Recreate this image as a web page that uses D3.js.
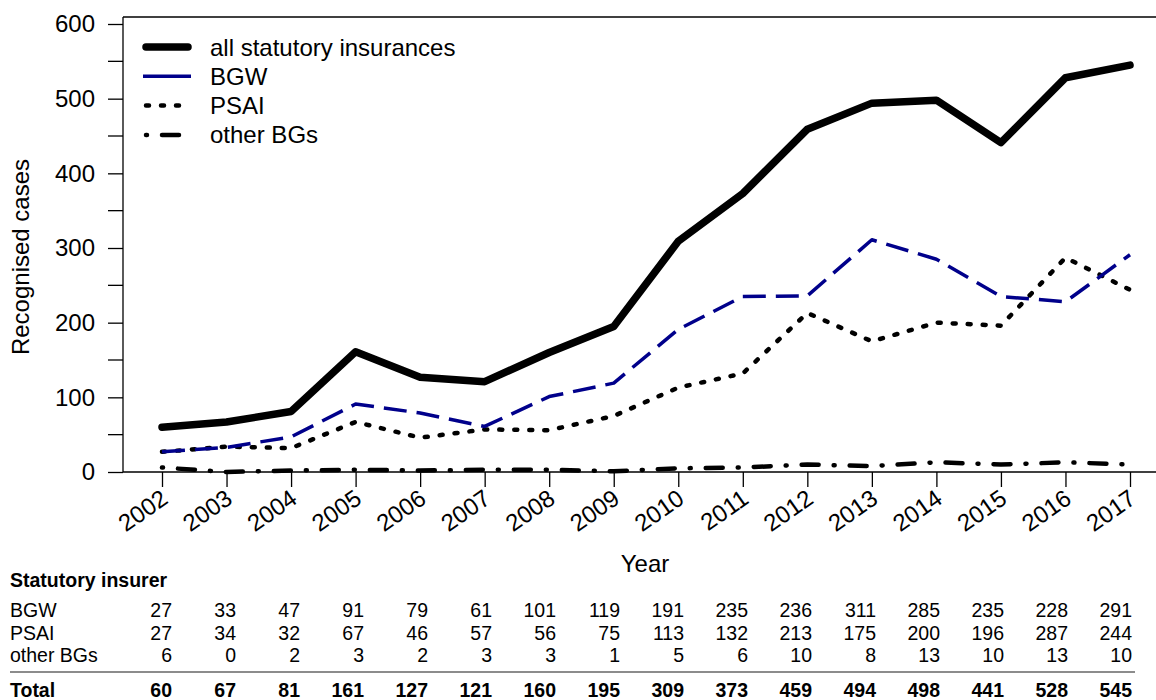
<!DOCTYPE html>
<html><head><meta charset="utf-8">
<script src="https://cdn.jsdelivr.net/npm/d3@7"></script>
<style>body{margin:0;background:#fff;} text{font-family:Arial,"Liberation Sans",sans-serif;}</style>
</head><body><svg id="c" width="1156" height="700"></svg>
<script>
const years = [2002,2003,2004,2005,2006,2007,2008,2009,2010,2011,2012,2013,2014,2015,2016,2017];
const bgw = [27,33,47,91,79,61,101,119,191,235,236,311,285,235,228,291];
const psai = [27,34,32,67,46,57,56,75,113,132,213,175,200,196,287,244];
const otherBGs = [6,0,2,3,2,3,3,1,5,6,10,8,13,10,13,10];
const total = [60,67,81,161,127,121,160,195,309,373,459,494,498,441,528,545];
const yTicks = [0,100,200,300,400,500,600];
const yMinorTicks = [50,150,250,350,450,550];
const seriesNames = ["all statutory insurances","BGW","PSAI","other BGs"];
const tableRows = ["BGW","PSAI","other BGs"];

const svg = d3.select("#c");
const x = d3.scaleLinear().domain([2002,2017]).range([162,1130]);
const y = d3.scaleLinear().domain([0,600]).range([472,24]);

const styles = [
  {data:total, color:"#000", width:7.5, dash:null, cap:"round"},
  {data:bgw, color:"#00008B", width:3.5, dash:"23,10", cap:"butt"},
  {data:psai, color:"#000", width:4.5, dash:"3,12", cap:"round"},
  {data:otherBGs, color:"#000", width:4.5, dash:"1,15,17,15", cap:"round"}
];

svg.append("line").attr("x1",123).attr("x2",1156).attr("y1",17).attr("y2",17).attr("stroke","#000").attr("stroke-width",1.3);
svg.append("line").attr("x1",123).attr("x2",1156).attr("y1",472).attr("y2",472).attr("stroke","#000").attr("stroke-width",1.3);

const yAxis = d3.axisLeft(y).tickValues(yTicks).tickSize(15).tickPadding(13).tickSizeOuter(0);
const gy = svg.append("g").attr("transform","translate(123,0)").call(yAxis);
gy.select(".domain").attr("d","M0,17V472").attr("stroke-width",1.3);
gy.selectAll(".tick line").attr("stroke-width",1.3);
gy.selectAll("text").attr("font-size",24).attr("fill","#000").attr("font-family","Arial,'Liberation Sans',sans-serif");
svg.append("g").selectAll("line").data(yMinorTicks).join("line")
  .attr("x1",108).attr("x2",123).attr("y1",d=>y(d)).attr("y2",d=>y(d)).attr("stroke","#000").attr("stroke-width",1.3);

const xAxis = d3.axisBottom(x).tickValues(years).tickFormat(d3.format("d")).tickSize(15).tickSizeOuter(0);
const gx = svg.append("g").attr("transform","translate(0,472)").call(xAxis);
gx.select(".domain").remove();
gx.selectAll(".tick line").attr("stroke-width",1.3);
gx.selectAll("text").attr("font-size",24).attr("fill","#000")
  .attr("font-family","Arial,'Liberation Sans',sans-serif")
  .attr("text-anchor","end").attr("dy",null).attr("y",0)
  .attr("transform","translate(7,30) rotate(-35)");

svg.append("text").attr("x",645).attr("y",572).attr("text-anchor","middle").attr("font-size",24).text("Year");
svg.append("text").attr("transform","translate(29,257) rotate(-90)").attr("text-anchor","middle").attr("font-size",24).text("Recognised cases");

const line = d3.line().x((d,i)=>x(years[i])).y(d=>y(d));
[3,2,1,0].forEach(k=>{
  const s = styles[k];
  svg.append("path").attr("d",line(s.data)).attr("fill","none").attr("stroke",s.color)
    .attr("stroke-width",s.width).attr("stroke-dasharray",s.dash).attr("stroke-linecap",s.cap).attr("stroke-linejoin","round");
});

const lg = svg.append("g");
const legendDash = [null, null, "3,12", "1,15,17,15"];
seriesNames.forEach((n,i)=>{
  const s = styles[i];
  const yy = 47 + i*29.3;
  lg.append("line").attr("x1",i===1?143:146).attr("x2",i===1?191:188).attr("y1",yy).attr("y2",yy)
    .attr("stroke",s.color).attr("stroke-width",s.width)
    .attr("stroke-dasharray", legendDash[i]).attr("stroke-linecap",i===1?"butt":"round");
  lg.append("text").attr("x",210).attr("y",yy+8.5).attr("font-size",24).text(n);
});

const tx = i => 172 + i*64;
svg.append("text").attr("x",10).attr("y",587).attr("font-size",19.5).attr("font-weight","bold").text("Statutory insurer");
const rowData = [bgw, psai, otherBGs];
rowData.forEach((arr,r)=>{
  const yy = 617 + r*22.5;
  svg.append("text").attr("x",10).attr("y",yy).attr("font-size",19.5).text(tableRows[r]);
  svg.append("g").selectAll("text").data(arr).join("text")
    .attr("x",(d,i)=>tx(i)).attr("y",yy).attr("text-anchor","end").attr("font-size",19.5).text(d=>d);
});
svg.append("line").attr("x1",10).attr("x2",1135).attr("y1",672).attr("y2",672).attr("stroke","#666").attr("stroke-width",1.5);
svg.append("text").attr("x",10).attr("y",697).attr("font-size",19.5).attr("font-weight","bold").text("Total");
svg.append("g").selectAll("text").data(total).join("text")
  .attr("x",(d,i)=>tx(i)).attr("y",697).attr("text-anchor","end").attr("font-size",19.5).attr("font-weight","bold").text(d=>d);
</script></body></html>
